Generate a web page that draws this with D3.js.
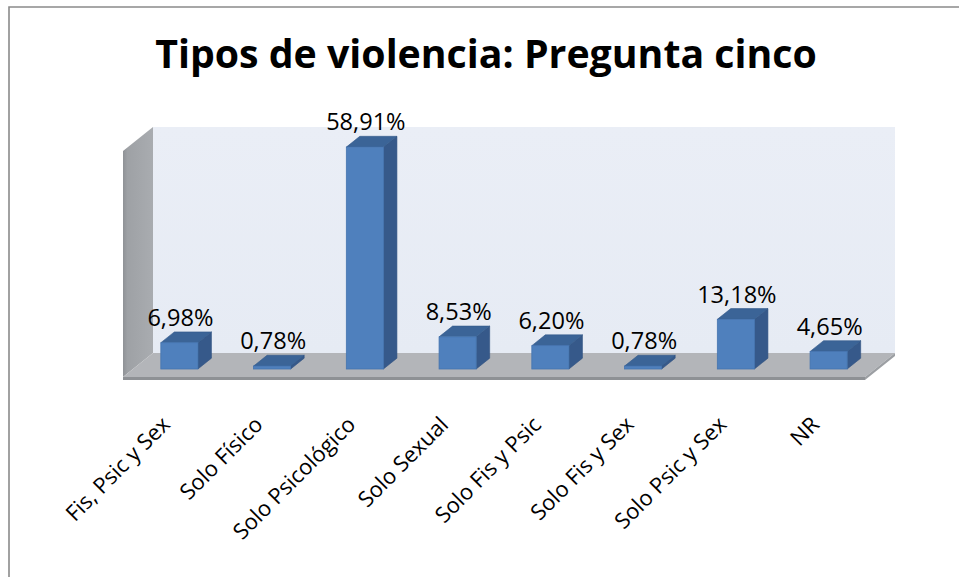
<!DOCTYPE html>
<html>
<head>
<meta charset="utf-8">
<script src="https://cdn.jsdelivr.net/npm/d3@7"></script>
<style>
  html, body { margin: 0; padding: 0; background: #fff; }
  svg { display: block; }
</style>
</head>
<body>
<svg id="chart" width="959" height="577"></svg>
<script>
const title = "Tipos de violencia: Pregunta cinco";
const categories = ["Fis, Psic y Sex", "Solo Físico", "Solo Psicológico", "Solo Sexual", "Solo Fis y Psic", "Solo Fis y Sex", "Solo Psic y Sex", "NR"];
const values = [6.98, 0.78, 58.91, 8.53, 6.20, 0.78, 13.18, 4.65];
const axisMax = 60;

const svg = d3.select("#chart");
const FONT = "'Open Sans', Lato, sans-serif";

// measure a text's width at 20px, to size fonts to the reference widths
function fitSize(str, target, weight) {
  const t = svg.append("text").attr("font-family", FONT).attr("font-size", 20)
    .attr("font-weight", weight || "normal").text(str);
  const l = t.node().getComputedTextLength();
  t.remove();
  return 20 * target / l;
}
const labelSize = fitSize("6,98%", 66);
const catSize = labelSize * 0.93;

// frame
svg.append("path").attr("d", "M9,577 L9,7 L959,7")
  .attr("fill", "none").attr("stroke", "#8a8a8a").attr("stroke-width", 1.6);

// geometry of 3D box
const fl = 123, fr = 865, floorFrontY = 377;
const D = [30, -24];            // depth vector of the floor
const wallH = 226;

const x = d3.scaleBand().domain(categories).range([fl, fr]).paddingInner(0.6).paddingOuter(0.3);
const y = d3.scaleLinear().domain([0, axisMax]).range([0, wallH]);

const defs = svg.append("defs");
const g1 = defs.append("linearGradient").attr("id", "sideWall").attr("x1", 0).attr("x2", 1).attr("y1", 0).attr("y2", 0);
g1.append("stop").attr("offset", 0).attr("stop-color", "#8f9296");
g1.append("stop").attr("offset", 0.15).attr("stop-color", "#9ea1a5");
g1.append("stop").attr("offset", 1).attr("stop-color", "#a9acb0");
const g2 = defs.append("linearGradient").attr("id", "backWall").attr("x1", 0).attr("x2", 0).attr("y1", 0).attr("y2", 1);
g2.append("stop").attr("offset", 0).attr("stop-color", "#eaeef6");
g2.append("stop").attr("offset", 1).attr("stop-color", "#e6ebf4");

const bx = fl + D[0], by = floorFrontY + D[1];
const bxr = fr + D[0];
// back wall
svg.append("path")
  .attr("d", `M${bx},${by} L${bx},${by - wallH} L${bxr},${by - wallH} L${bxr},${by} Z`)
  .attr("fill", "url(#backWall)");
// side wall
svg.append("path")
  .attr("d", `M${fl},${floorFrontY} L${fl},${by - wallH - D[1]} L${bx},${by - wallH} L${bx},${by} Z`)
  .attr("fill", "url(#sideWall)");
// floor
svg.append("path")
  .attr("d", `M${fl},${floorFrontY} L${bx},${by} L${bxr},${by} L${fr},${floorFrontY} Z`)
  .attr("fill", "#b3b5b9");
// floor thickness
svg.append("path")
  .attr("d", `M${fl},${floorFrontY} L${fr},${floorFrontY} L${fr},${floorFrontY + 3} L${fl},${floorFrontY + 3} Z`)
  .attr("fill", "#8e9195");
svg.append("path")
  .attr("d", `M${fr},${floorFrontY} L${bxr},${by} L${bxr},${by + 3} L${fr},${floorFrontY + 3} Z`)
  .attr("fill", "#9c9fa3");

// bars
const t = 1 / 3;                           // depth position of bar front
const offX = D[0] * t, baseY = floorFrontY + D[1] * t;
const bd = [D[0] * 0.45, D[1] * 0.45];     // bar depth
const w = x.bandwidth();

const bars = svg.append("g").selectAll("g").data(categories).join("g");
bars.each(function (c, i) {
  const g = d3.select(this);
  const fx = x(c) + offX;
  const h = y(values[i]);
  const top = baseY - h;
  // side face
  g.append("path")
    .attr("d", `M${fx + w},${top} L${fx + w + bd[0]},${top + bd[1]} L${fx + w + bd[0]},${baseY + bd[1]} L${fx + w},${baseY} Z`)
    .attr("fill", "#36598a").attr("stroke", "#2f5080").attr("stroke-width", 0.6);
  // top face
  g.append("path")
    .attr("d", `M${fx},${top} L${fx + w},${top} L${fx + w + bd[0]},${top + bd[1]} L${fx + bd[0]},${top + bd[1]} Z`)
    .attr("fill", "#3b6497").attr("stroke", "#33598a").attr("stroke-width", 0.6);
  // front face
  g.append("rect")
    .attr("x", fx).attr("y", top).attr("width", w).attr("height", h)
    .attr("fill", "#4f80bd").attr("stroke", "#4574b0").attr("stroke-width", 0.8);
  // value label
  g.append("text")
    .attr("x", fx + w / 2 + 1)
    .attr("y", top + bd[1] - 6)
    .attr("text-anchor", "middle")
    .attr("font-family", FONT)
    .attr("font-size", labelSize)
    .attr("fill", "#000")
    .text(d3.format(".2f")(values[i]).replace(".", ",") + "%");
});

// category labels
svg.append("g").selectAll("text").data(categories).join("text")
  .attr("transform", c => `translate(${x(c) + w / 2 + 2},${426}) rotate(-45)`)
  .attr("text-anchor", "end")
  .attr("font-family", FONT)
  .attr("font-size", catSize)
  .attr("fill", "#000")
  .text(c => c);

// title, sized to fit its width in the reference
const tt = svg.append("text")
  .attr("x", 486).attr("y", 68)
  .attr("text-anchor", "middle")
  .attr("font-family", FONT)
  .attr("font-weight", "bold")
  .attr("font-size", fitSize(title, 662, "bold"))
  .attr("fill", "#000")
  .text(title);
</script>
</body>
</html>
